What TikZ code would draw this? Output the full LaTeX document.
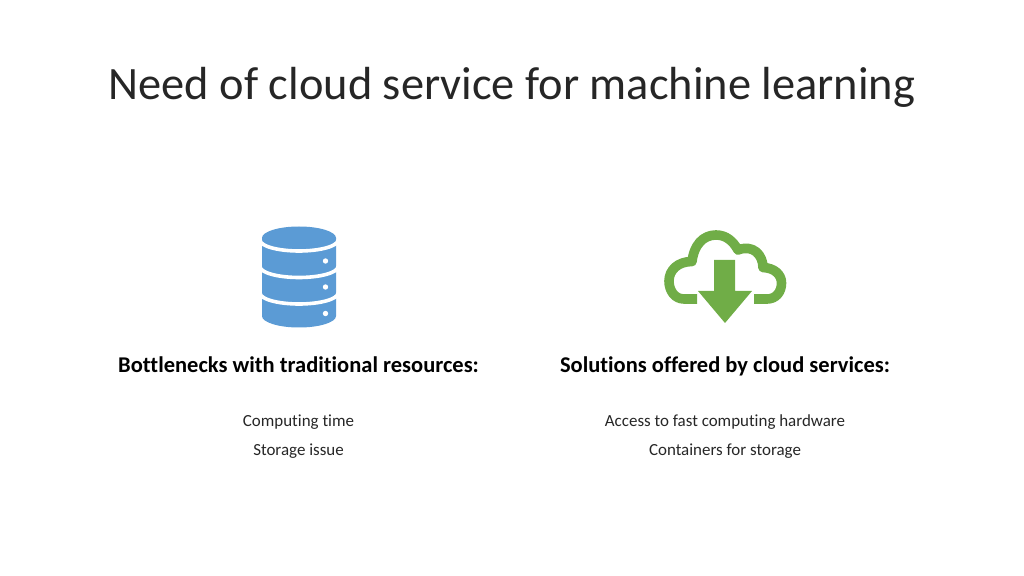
\documentclass[tikz,border=0pt]{standalone}
\usepackage{fontspec}
\setmainfont[Ligatures=NoCommon]{Carlito}
\definecolor{dbblue}{HTML}{5B9BD5}
\definecolor{cloudgreen}{HTML}{70AD47}
\tikzset{
	titletext/.style={font=\fontsize{33}{40}\selectfont, text=black!85, anchor=base},
	headtext/.style={font=\fontsize{16}{19}\selectfont\bfseries, text=black, anchor=base},
	bodytext/.style={font=\fontsize{12.05}{15}\selectfont, text=black!85, anchor=base}
}
\begin{document}
\begin{tikzpicture}[x=0.025cm, y=-0.025cm]
	
	\useasboundingbox (0,0) rectangle (1024,576);
	
	% Title
	\node[titletext] (title) at (512,100) {Need of cloud service for machine learning};
	
	%% DATABASE
	% Body
	\fill[dbblue] (262,238) -- (262,316) arc[start angle=180, end angle=0, x radius=37, y radius=11.5] -- (336,238) -- cycle;
	\fill[dbblue] (299,238) ellipse[x radius=37, y radius=11.5];
	
	% Gaps
	\foreach \y in {240, 266.5, 293}
	{
		\draw[white, line width=0.09cm] (260,\y) arc[start angle=180, end angle=0, x radius=39, y radius=11];
	}
	
	% Dots
	\foreach \y in {261, 287, 313.5}
	{
		\fill[white] (325.5,\y) circle[radius=2.7];
	}
	
	%% CLOUD
	% Outline
	\draw[cloudgreen, line width=0.24cm, line join=round]
		(697,299) -- (684,299)
		.. controls (675,299) and (669,291) .. (669,281)
		.. controls (669,270) and (678,261.5) .. (692,261.5)
		.. controls (694,245) and (703,235) .. (716,235)
		.. controls (726,235) and (733,241) .. (738,250)
		.. controls (753,244) and (763,255) .. (763,267.5)
		.. controls (775,268) and (781.5,275) .. (781.5,283)
		.. controls (781.5,292) and (776,299) .. (767,299)
		-- (754,299);
	
	% Arrow
	\fill[cloudgreen] (714,260) -- (735,260) -- (735,291) -- (752,291) -- (725,323) -- (698,291) -- (714,291) -- cycle;
	
	%% TEXT
	% Left
	\node[headtext] (bottlenecks) at (298.5,372) {Bottlenecks with traditional resources:};
	\node[bodytext] (computing) at (298.5,426) {Computing time};
	\node[bodytext] (storage) at (298.5,455) {Storage issue};
	
	% Right
	\node[headtext] (solutions) at (725,372) {Solutions offered by cloud services:};
	\node[bodytext] (access) at (725,426) {Access to fast computing hardware};
	\node[bodytext] (containers) at (725,455) {Containers for storage};
	
\end{tikzpicture}
\end{document}
